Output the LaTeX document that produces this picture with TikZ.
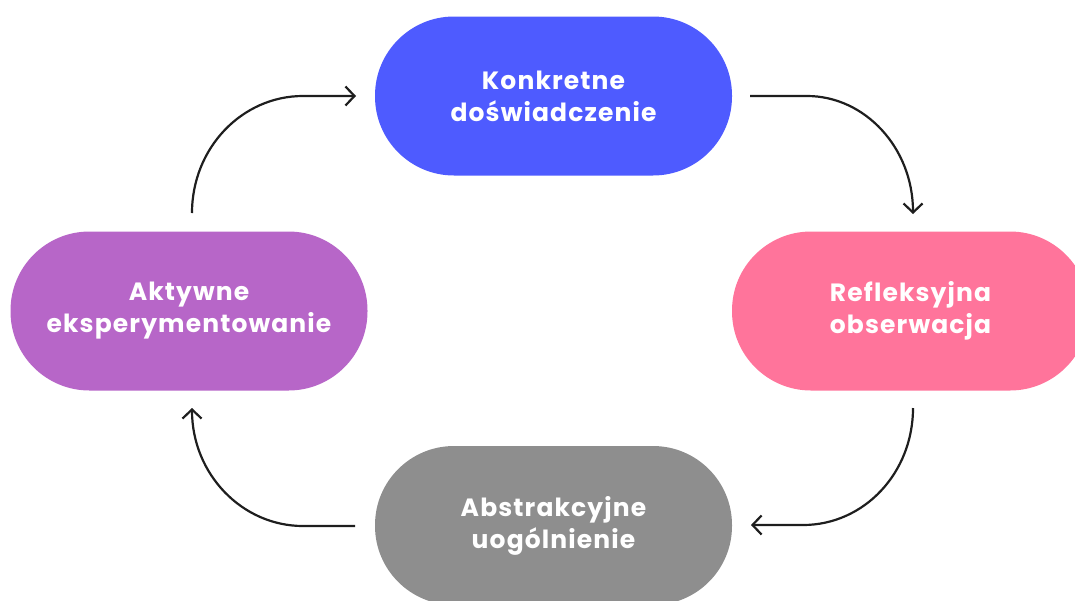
\documentclass[tikz,border=0pt]{standalone}
\usepackage{fontspec}
\setmainfont{Poppins}[LetterSpace=4.5]
\usetikzlibrary{arrows.meta}
\definecolor{cblue}{HTML}{4E5BFF}
\definecolor{cpink}{HTML}{FF749B}
\definecolor{cpurple}{HTML}{B766C8}
\definecolor{cgray}{HTML}{8E8E8E}
\definecolor{cline}{HTML}{1E1E1E}
\tikzset{
  stadium/.style={rounded corners=79pt, minimum width=357pt, minimum height=159pt,
    inner sep=0pt, text=white, align=center,
    font=\fontsize{25}{32}\selectfont\bfseries},
  cyc/.style={draw=cline, line width=2.2pt,
    -{Straight Barb[length=9pt,width=19pt,line width=2.2pt]}}
}
\begin{document}
\begin{tikzpicture}[x=1pt,y=-1pt]
\useasboundingbox (0,0) rectangle (1075,600);
\clip (0,0) rectangle (1075,600);
\node[stadium, fill=cblue] (ke) at (553.5,96) {Konkretne\\doświadczenie};
\node[stadium, fill=cpink] (ro) at (910.5,311) {Refleksyjna\\obserwacja};
\node[stadium, fill=cgray] (au) at (553.5,525.5) {Abstrakcyjne\\uogólnienie};
\node[stadium, fill=cpurple] (ae) at (189,311) {Aktywne\\eksperymentowanie};
\coordinate (a1s) at (750,96);
\coordinate (a1e) at (913,214);
\coordinate (a2s) at (913,408);
\coordinate (a2e) at (751,525);
\coordinate (a3s) at (355,526);
\coordinate (a3e) at (192,408);
\coordinate (a4s) at (192,213);
\coordinate (a4e) at (356,96);
\draw[cyc] (a1s) -- (807,96) .. controls (865,96) and (913,148) .. (a1e);
\draw[cyc] (a2s) .. controls (913,473) and (864,525) .. (803,525) -- (a2e);
\draw[cyc] (a3s) -- (303,526) .. controls (242,526) and (192,474) .. (a3e);
\draw[cyc] (a4s) .. controls (192,148) and (242,96) .. (303,96) -- (a4e);
\end{tikzpicture}
\end{document}
